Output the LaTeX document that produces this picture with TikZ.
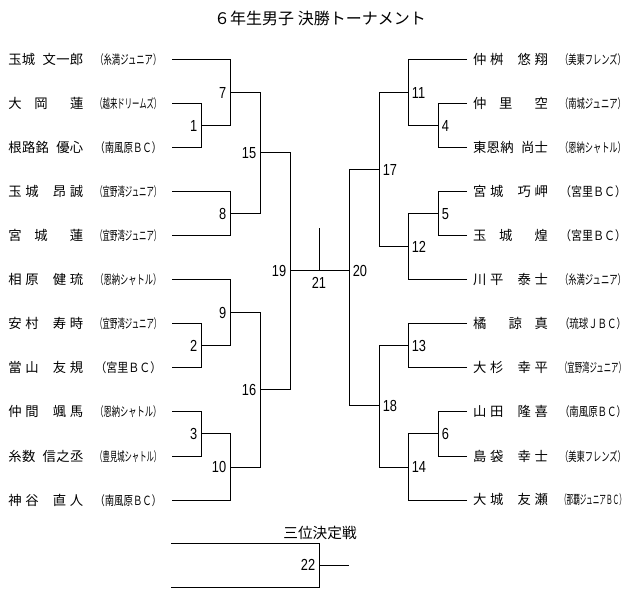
\documentclass[tikz,border=0pt]{standalone}
\usepackage{graphicx}
\usepackage{fontspec}
\setmainfont{Noto Sans CJK JP}
\newfontfamily\numfont[FakeStretch=0.8]{Liberation Sans}
\usetikzlibrary{positioning}

\makeatletter
% player name spread over a fixed width, '-' is a half blank
\newcommand\pname[1]{\makebox[56.25pt][s]{\pn@a#1\@nil}}
\def\pn@a#1{\pn@b{#1}\pn@c}
\def\pn@c#1{\ifx#1\@nil\else\hfil\pn@b{#1}\expandafter\pn@c\fi}
\def\pn@b#1{\if#1-\hspace{0.5em}\else#1\fi}
\makeatother
% club name squeezed into a fixed width
\newcommand\pteam[1]{\resizebox{49.5pt}{\height}{\fontsize{9.5}{10}\selectfont #1}}

\begin{document}
\begin{tikzpicture}[x=0.75pt, y=-0.75pt, line width=0.75pt,
                    lplayer/.style={anchor=east, inner sep=0pt, outer xsep=8pt,
                                    font=\fontsize{10}{12}\selectfont},
                    rplayer/.style={lplayer, anchor=west, outer xsep=4.5pt},
                    lno/.style={anchor=east, inner xsep=2.5pt, inner ysep=1pt,
                                font=\numfont\fontsize{12}{12}\selectfont},
                    rno/.style={lno, anchor=west}]
   \useasboundingbox (0,0) rectangle (640,613);

   \node[font=\fontsize{12}{14}\selectfont] (title) at (320,18) {６年生男子 決勝トーナメント};

   % left half
   \node[lplayer] (L1)  at (172,60)  {\pname{玉城-文一郎}\hspace{9pt}\pteam{（糸満ジュニア）}};
   \node[lplayer] (L2)  at (172,104) {\pname{大-岡--蓮}\hspace{9pt}\pteam{（越来ドリームズ）}};
   \node[lplayer] (L3)  at (172,148) {\pname{根路銘-優心}\hspace{9pt}\pteam{（南風原ＢＣ）}};
   \node[lplayer] (L4)  at (172,192) {\pname{玉城-昂誠}\hspace{9pt}\pteam{（宜野湾ジュニア）}};
   \node[lplayer] (L5)  at (172,236) {\pname{宮-城--蓮}\hspace{9pt}\pteam{（宜野湾ジュニア）}};
   \node[lplayer] (L6)  at (172,280) {\pname{相原-健琉}\hspace{9pt}\pteam{（恩納シャトル）}};
   \node[lplayer] (L7)  at (172,324) {\pname{安村-寿時}\hspace{9pt}\pteam{（宜野湾ジュニア）}};
   \node[lplayer] (L8)  at (172,368) {\pname{當山-友規}\hspace{9pt}\pteam{（宮里ＢＣ）}};
   \node[lplayer] (L9)  at (172,412) {\pname{仲間-颯馬}\hspace{9pt}\pteam{（恩納シャトル）}};
   \node[lplayer] (L10) at (172,456) {\pname{糸数-信之丞}\hspace{9pt}\pteam{（豊見城シャトル）}};
   \node[lplayer] (L11) at (172,500) {\pname{神谷-直人}\hspace{9pt}\pteam{（南風原ＢＣ）}};

   % right half
   \node[rplayer] (R1)  at (467,60)  {\pname{仲桝-悠翔}\hspace{9pt}\pteam{（美東フレンズ）}};
   \node[rplayer] (R2)  at (467,104) {\pname{仲-里--空}\hspace{9pt}\pteam{（南城ジュニア）}};
   \node[rplayer] (R3)  at (467,148) {\pname{東恩納-尚士}\hspace{9pt}\pteam{（恩納シャトル）}};
   \node[rplayer] (R4)  at (467,192) {\pname{宮城-巧岬}\hspace{9pt}\pteam{（宮里ＢＣ）}};
   \node[rplayer] (R5)  at (467,236) {\pname{玉-城--煌}\hspace{9pt}\pteam{（宮里ＢＣ）}};
   \node[rplayer] (R6)  at (467,280) {\pname{川平-泰士}\hspace{9pt}\pteam{（糸満ジュニア）}};
   \node[rplayer] (R7)  at (467,324) {\pname{橘--諒-真}\hspace{9pt}\pteam{（琉球ＪＢＣ）}};
   \node[rplayer] (R8)  at (467,368) {\pname{大杉-幸平}\hspace{9pt}\pteam{（宜野湾ジュニア）}};
   \node[rplayer] (R9)  at (467,412) {\pname{山田-隆喜}\hspace{9pt}\pteam{（南風原ＢＣ）}};
   \node[rplayer] (R10) at (467,456) {\pname{島袋-幸士}\hspace{9pt}\pteam{（美東フレンズ）}};
   \node[rplayer] (R11) at (467,500) {\pname{大城-友瀬}\hspace{9pt}\pteam{（那覇ジュニアＢＣ）}};

   % match points
   \coordinate (m1)  at (201,126);
   \coordinate (m2)  at (201,346);
   \coordinate (m3)  at (201,434);
   \coordinate (m7)  at (230,93);
   \coordinate (m8)  at (230,214);
   \coordinate (m9)  at (230,313);
   \coordinate (m10) at (230,467);
   \coordinate (m15) at (260,153);
   \coordinate (m16) at (260,390);
   \coordinate (m19) at (290,271);
   \coordinate (m4)  at (438,126);
   \coordinate (m5)  at (438,214);
   \coordinate (m6)  at (438,434);
   \coordinate (m11) at (408,93);
   \coordinate (m12) at (408,247);
   \coordinate (m13) at (408,346);
   \coordinate (m14) at (408,467);
   \coordinate (m17) at (379,170);
   \coordinate (m18) at (379,406);
   \coordinate (m20) at (349,271);
   \coordinate (m21) at (319,271);
   \coordinate (win) at (319,228);

   \draw (L1.east)  -| (m7)   (m1)  -| (m7)
         (L2.east)  -| (m1)   (L3.east)  -| (m1)
         (L4.east)  -| (m8)   (L5.east)  -| (m8)
         (L6.east)  -| (m9)   (m2)  -| (m9)
         (L7.east)  -| (m2)   (L8.east)  -| (m2)
         (L9.east)  -| (m3)   (L10.east) -| (m3)
         (m3)       -| (m10)  (L11.east) -| (m10)
         (m7)  -| (m15)  (m8)  -| (m15)
         (m9)  -| (m16)  (m10) -| (m16)
         (m15) -| (m19)  (m16) -| (m19);
   \draw (R1.west)  -| (m11)  (m4)  -| (m11)
         (R2.west)  -| (m4)   (R3.west)  -| (m4)
         (R4.west)  -| (m5)   (R5.west)  -| (m5)
         (m5)       -| (m12)  (R6.west)  -| (m12)
         (R7.west)  -| (m13)  (R8.west)  -| (m13)
         (R9.west)  -| (m6)   (R10.west) -| (m6)
         (m6)       -| (m14)  (R11.west) -| (m14)
         (m11) -| (m17)  (m12) -| (m17)
         (m13) -| (m18)  (m14) -| (m18)
         (m17) -| (m20)  (m18) -| (m20);
   \draw (m19) -- (m20)  (m21) -- (win);

   \node[lno] (n1)  at (m1)  {1};
   \node[lno] (n2)  at (m2)  {2};
   \node[lno] (n3)  at (m3)  {3};
   \node[lno] (n7)  at (m7)  {7};
   \node[lno] (n8)  at (m8)  {8};
   \node[lno] (n9)  at (m9)  {9};
   \node[lno] (n10) at (m10) {10};
   \node[lno] (n15) at (m15) {15};
   \node[lno] (n16) at (m16) {16};
   \node[lno] (n19) at (m19) {19};
   \node[rno] (n4)  at (m4)  {4};
   \node[rno] (n5)  at (m5)  {5};
   \node[rno] (n6)  at (m6)  {6};
   \node[rno] (n11) at (m11) {11};
   \node[rno] (n12) at (m12) {12};
   \node[rno] (n13) at (m13) {13};
   \node[rno] (n14) at (m14) {14};
   \node[rno] (n17) at (m17) {17};
   \node[rno] (n18) at (m18) {18};
   \node[rno] (n20) at (m20) {20};
   \node[lno, anchor=north, below=3pt of m21] (n21) {21};

   % third place
   \node[font=\fontsize{11}{13}\selectfont] (third) at (320,533) {三位決定戦};
   \coordinate (t1)  at (171,543);
   \coordinate (t2)  at (171,587);
   \coordinate (m22) at (319,565);
   \coordinate (w22) at (349,565);
   \draw (t1) -| (m22)  (t2) -| (m22)  (m22) -- (w22);
   \node[lno] (n22) at (m22) {22};
\end{tikzpicture}
\end{document}
